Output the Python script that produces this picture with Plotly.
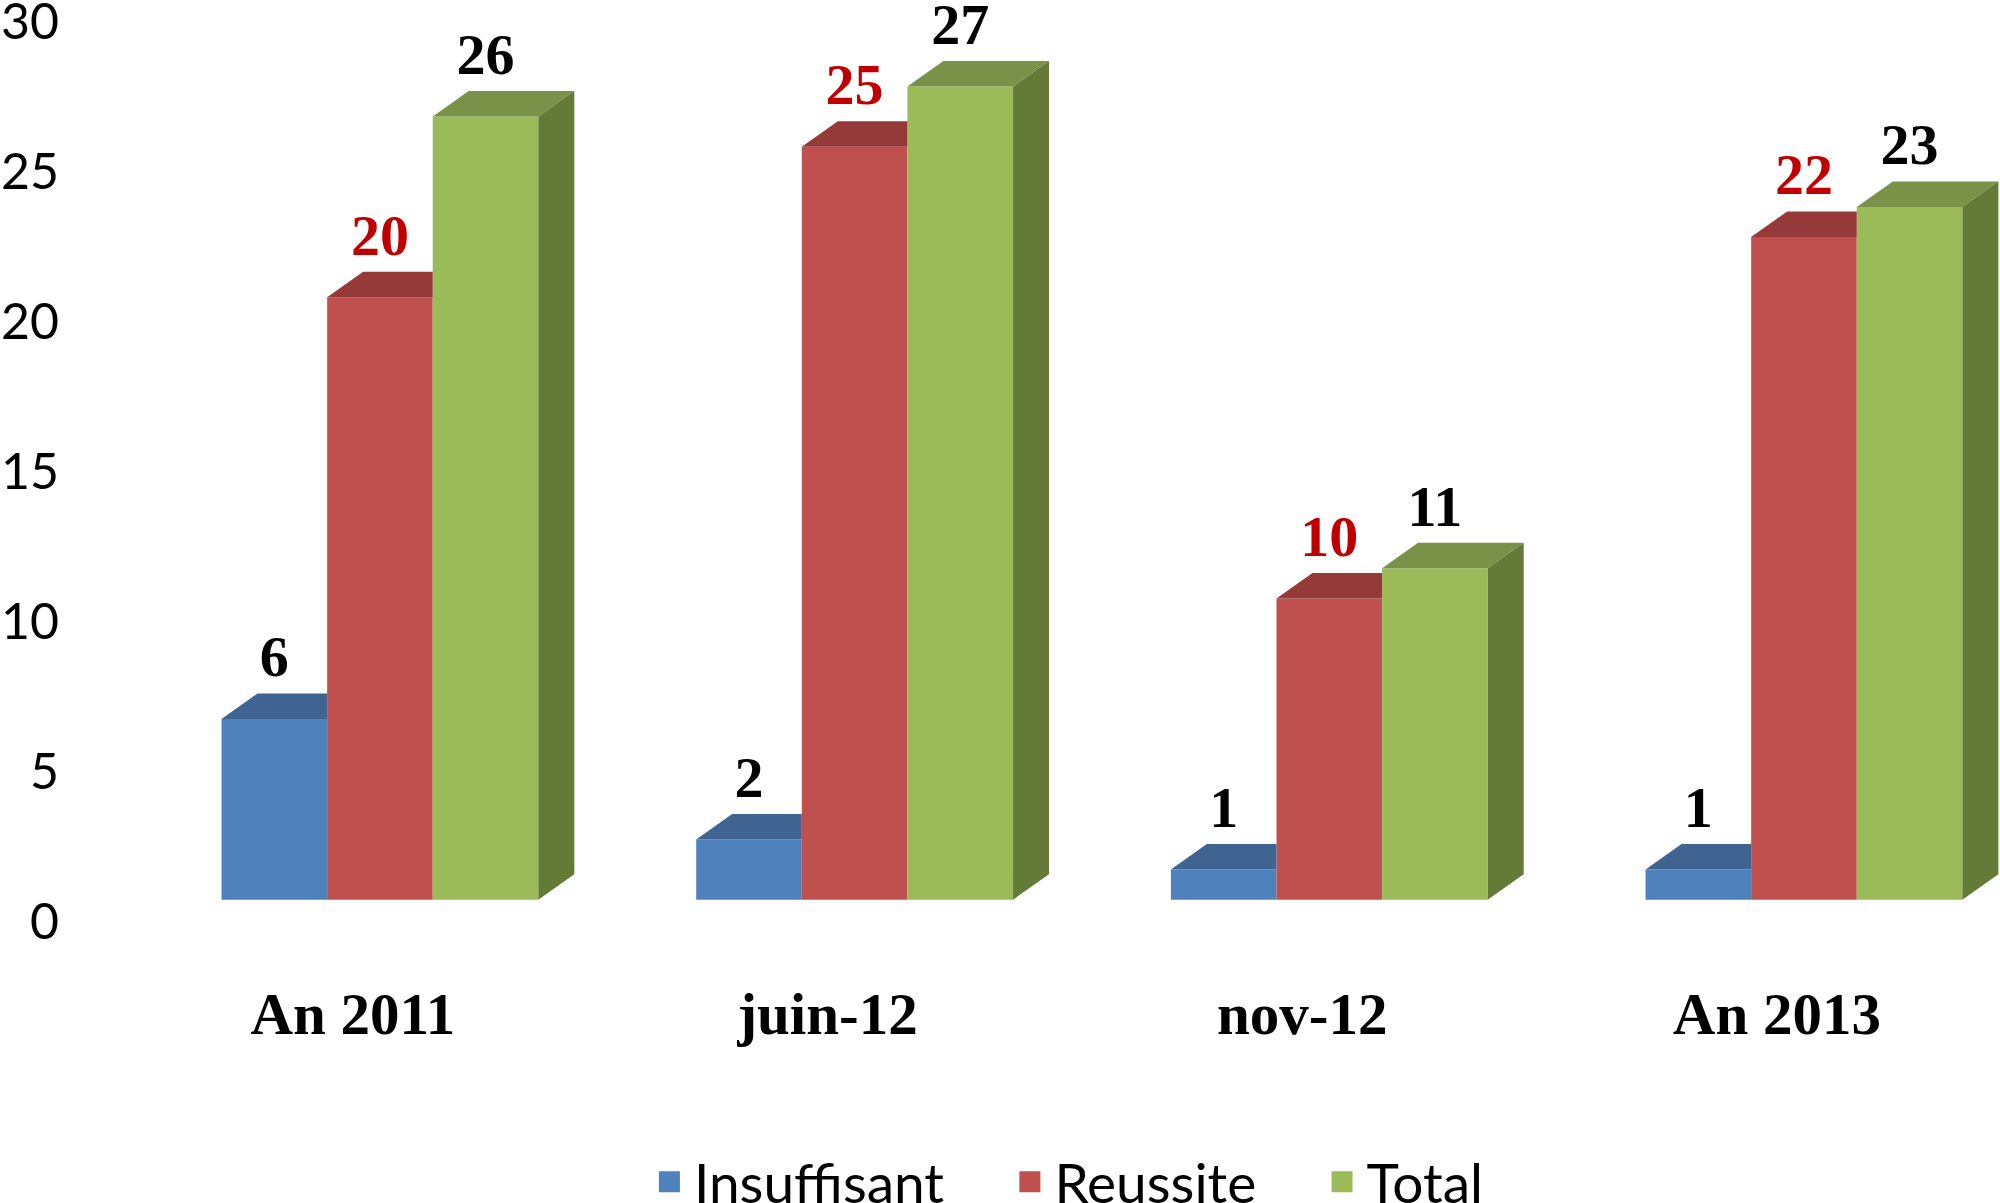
import plotly.graph_objects as go

categories = ["An 2011", "juin-12", "nov-12", "An 2013"]
insuffisant = [6, 2, 1, 1]
reussite = [20, 25, 10, 22]
total = [26, 27, 11, 23]
y_ticks = [0, 5, 10, 15, 20, 25, 30]

series = [
    ("Insuffisant", insuffisant, "#4f81bd", "#3f6491", "#000000"),
    ("Reussite", reussite, "#c0504d", "#953a39", "#c00000"),
    ("Total", total, "#9bbb59", "#7a9247", "#000000"),
]
SIDE = "#647b38"
BW = 0.2225      # bar width, in category units
DX = 0.0758      # depth shift, in category units
DY = 0.847       # depth shift, in value units
LABEL_UP = 1.90  # label centre above the front top edge
TICK_SHIFT = 0.057
LEGEND_PAD = "\u00a0\u00a0\u00a0\u00a0"
positions = list(range(len(categories)))

fig = go.Figure()

# carries the visible value axis with its tick labels
fig.add_trace(go.Scatter(x=[0], y=[0], mode="markers", marker=dict(opacity=0), showlegend=False, hoverinfo="skip"))

for name, vals, col, top, _ in series:
    fig.add_trace(go.Bar(x=positions, y=vals, name=name, marker=dict(color=col, line=dict(width=0)),
                         yaxis="y2", showlegend=False, hoverinfo="x+y"))

# top faces and the side face, computed from the values
for j, (name, vals, col, top, _) in enumerate(series):
    px, py = [], []
    for i, v in enumerate(vals):
        x0 = i + (j - 1.5) * BW
        x1 = x0 + BW
        if j < len(series) - 1 and series[j + 1][1][i] > v:
            px += [x0, x0 + DX, x1, x1, None]
            py += [v, v + DY, v + DY, v, None]
        else:
            px += [x0, x0 + DX, x1 + DX, x1, None]
            py += [v, v + DY, v + DY, v, None]
    fig.add_trace(go.Scatter(x=px, y=py, mode="lines", fill="toself", fillcolor=top,
                             line=dict(width=0, color=top), yaxis="y2", showlegend=False, hoverinfo="skip"))

sx, sy = [], []
for i, v in enumerate(total):
    x1 = i + 1.5 * BW
    sx += [x1, x1 + DX, x1 + DX, x1, None]
    sy += [0, DY, v + DY, v, None]
fig.add_trace(go.Scatter(x=sx, y=sy, mode="lines", fill="toself", fillcolor=SIDE,
                         line=dict(width=0, color=SIDE), yaxis="y2", showlegend=False, hoverinfo="skip"))

# value labels
for j, (name, vals, col, top, lab) in enumerate(series):
    fig.add_trace(go.Scatter(
        x=[i + (j - 1) * BW for i in positions], y=[v + LABEL_UP for v in vals],
        text=[str(v) for v in vals], mode="text", textposition="middle center",
        textfont=dict(family="Liberation Serif", size=58, color=lab, weight="bold"),
        yaxis="y2", showlegend=False, hoverinfo="skip", cliponaxis=False))

# legend entries
for name, vals, col, top, _ in series:
    fig.add_trace(go.Scatter(x=[None], y=[None], mode="markers", name=name + LEGEND_PAD, yaxis="y2",
                             marker=dict(symbol="square", size=16, color=col, line=dict(width=5, color=col))))

fig.update_layout(
    width=2000, height=1203, autosize=False,
    margin=dict(l=60, r=0, t=0, b=0, pad=0),
    paper_bgcolor="white", plot_bgcolor="white",
    barmode="group", bargap=0.3326, bargroupgap=0,
    font=dict(family="Lato", color="black"),
    xaxis=dict(range=[-0.674, 3.413], tickmode="array",
               tickvals=[i - TICK_SHIFT for i in positions], ticktext=categories,
               tickfont=dict(family="Liberation Serif", size=59, color="black", weight="bold"),
               ticks="", showgrid=False, zeroline=False, showline=False,
               anchor="free", position=0.1455, automargin=False),
    yaxis=dict(range=[-7.26, 30.73], tickvals=y_ticks, tickfont=dict(family="Lato", size=50, color="black"),
               ticks="", showgrid=False, zeroline=False, showline=False, ticklabeloverflow="allow",
               automargin=False),
    yaxis2=dict(range=[-7.96, 29.87], overlaying="y", side="left", visible=False,
                showgrid=False, zeroline=False, automargin=False),
    legend=dict(orientation="h", x=0.3015, xanchor="left", y=0.0175, yanchor="middle", yref="container",
                font=dict(family="Lato", size=55, color="black"),
                itemwidth=39, bgcolor="rgba(0,0,0,0)"),
)

fig.write_html("out.html", post_script="document.body.style.margin='0';", config={"displayModeBar": False})
